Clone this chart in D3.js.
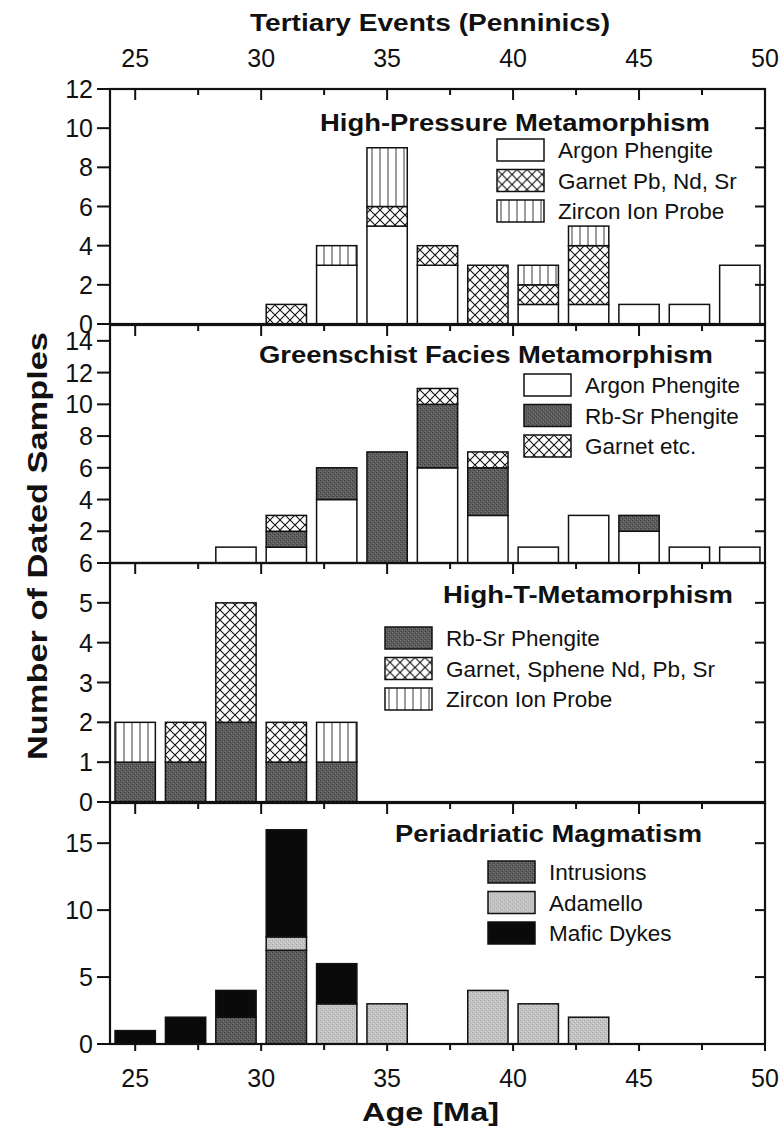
<!DOCTYPE html>
<html>
<head>
<meta charset="utf-8">
<script src="https://cdn.jsdelivr.net/npm/d3@7"></script>
<style>
  body { margin: 0; background: #fff; }
  svg { display: block; }
  text { font-family: "Liberation Sans", Arial, sans-serif; fill: #111; }
</style>
</head>
<body>
<svg id="chart" width="783" height="1135"></svg>
<script>
// age bins (Ma), each bar is 1.6 Ma wide centred on the bin
const bins = [25, 27, 29, 31, 33, 35, 37, 39, 41, 43, 45, 47, 49];

// High-Pressure Metamorphism
const hpArgon  = [0, 0, 0, 0, 3, 5, 3, 0, 1, 1, 1, 1, 3];
const hpGarnet = [0, 0, 0, 1, 0, 1, 1, 3, 1, 3, 0, 0, 0];
const hpZircon = [0, 0, 0, 0, 1, 3, 0, 0, 1, 1, 0, 0, 0];

// Greenschist Facies Metamorphism
const gsArgon  = [0, 0, 1, 1, 4, 0, 6, 3, 1, 3, 2, 1, 1];
const gsRbSr   = [0, 0, 0, 1, 2, 7, 4, 3, 0, 0, 1, 0, 0];
const gsGarnet = [0, 0, 0, 1, 0, 0, 1, 1, 0, 0, 0, 0, 0];

// High-T-Metamorphism
const htRbSr   = [1, 1, 2, 1, 1, 0, 0, 0, 0, 0, 0, 0, 0];
const htGarnet = [0, 1, 3, 1, 0, 0, 0, 0, 0, 0, 0, 0, 0];
const htZircon = [1, 0, 0, 0, 1, 0, 0, 0, 0, 0, 0, 0, 0];

// Periadriatic Magmatism
const pmIntrusions = [0, 0, 2, 7, 0, 0, 0, 0, 0, 0, 0, 0, 0];
const pmAdamello   = [0, 0, 0, 1, 3, 3, 0, 4, 3, 2, 0, 0, 0];
const pmMafic      = [1, 2, 2, 8, 3, 0, 0, 0, 0, 0, 0, 0, 0];

const xMajor = [25, 30, 35, 40, 45, 50];
const xMinor = [27.5, 32.5, 37.5, 42.5, 47.5];

const svg = d3.select("#chart");
const left = 110, right = 765;
const x = d3.scaleLinear().domain([24, 50]).range([left, right]);

// fills
const defs = svg.append("defs");
const hatch = defs.append("pattern").attr("id", "cross")
  .attr("patternUnits", "userSpaceOnUse").attr("width", 10).attr("height", 10);
hatch.append("rect").attr("width", 10).attr("height", 10).attr("fill", "#fff");
hatch.append("path").attr("d", "M0,0L10,10M10,0L0,10M-5,5L5,15M5,-5L15,5M-5,5L5,-5M5,15L15,5")
  .attr("stroke", "#111").attr("stroke-width", 1.1);
const vlines = defs.append("pattern").attr("id", "vert")
  .attr("patternUnits", "userSpaceOnUse").attr("width", 8).attr("height", 8);
vlines.append("rect").attr("width", 8).attr("height", 8).attr("fill", "#fff");
vlines.append("path").attr("d", "M4,0V8").attr("stroke", "#222").attr("stroke-width", 0.9);

// stippled greys
function stipple(id, base, darker, lighter) {
  const p = defs.append("pattern").attr("id", id)
    .attr("patternUnits", "userSpaceOnUse").attr("width", 4).attr("height", 4);
  p.append("rect").attr("width", 4).attr("height", 4).attr("fill", base);
  p.append("rect").attr("x", 0).attr("y", 0).attr("width", 1).attr("height", 1).attr("fill", darker);
  p.append("rect").attr("x", 2).attr("y", 2).attr("width", 1).attr("height", 1).attr("fill", darker);
  p.append("rect").attr("x", 1).attr("y", 3).attr("width", 1).attr("height", 1).attr("fill", lighter);
  p.append("rect").attr("x", 3).attr("y", 1).attr("width", 1).attr("height", 1).attr("fill", lighter);
}
stipple("darkdots", "#5c5c5c", "#3c3c3c", "#7a7a7a");
stipple("lightdots", "#c2c2c2", "#a6a6a6", "#d8d8d8");

const fills = {
  white: "#fff",
  cross: "url(#cross)",
  vert: "url(#vert)",
  dark: "url(#darkdots)",
  light: "url(#lightdots)",
  black: "#0a0a0a"
};

const panels = [
  {
    title: "High-Pressure Metamorphism", titleX: 710, titleY: 131, titleW: 390,
    domain: [0, 12], range: [324, 89], ticks: [0, 2, 4, 6, 8, 10, 12], labels: [0, 2, 4, 6, 8, 10, 12],
    series: [
      { name: "Argon Phengite", values: hpArgon, fill: "white" },
      { name: "Garnet Pb, Nd, Sr", values: hpGarnet, fill: "cross" },
      { name: "Zircon Ion Probe", values: hpZircon, fill: "vert" }
    ],
    legendX: 497, legendY: 139
  },
  {
    title: "Greenschist Facies Metamorphism", titleX: 713, titleY: 363, titleW: 454,
    domain: [0, 15], range: [563, 325], ticks: [0, 2, 4, 6, 8, 10, 12, 14], labels: [2, 4, 6, 8, 10, 12, 14],
    series: [
      { name: "Argon Phengite", values: gsArgon, fill: "white" },
      { name: "Rb-Sr Phengite", values: gsRbSr, fill: "dark" },
      { name: "Garnet etc.", values: gsGarnet, fill: "cross" }
    ],
    legendX: 524, legendY: 374
  },
  {
    title: "High-T-Metamorphism", titleX: 733, titleY: 603, titleW: 290,
    domain: [0, 6], range: [802, 563], ticks: [0, 1, 2, 3, 4, 5, 6], labels: [0, 1, 2, 3, 4, 5, 6],
    series: [
      { name: "Rb-Sr Phengite", values: htRbSr, fill: "dark" },
      { name: "Garnet, Sphene Nd, Pb, Sr", values: htGarnet, fill: "cross" },
      { name: "Zircon Ion Probe", values: htZircon, fill: "vert" }
    ],
    legendX: 385, legendY: 627
  },
  {
    title: "Periadriatic Magmatism", titleX: 702, titleY: 842, titleW: 307,
    domain: [0, 18], range: [1044, 803], ticks: [0, 5, 10, 15], labels: [0, 5, 10, 15],
    series: [
      { name: "Intrusions", values: pmIntrusions, fill: "dark" },
      { name: "Adamello", values: pmAdamello, fill: "light" },
      { name: "Mafic Dykes", values: pmMafic, fill: "black" }
    ],
    legendX: 488, legendY: 861
  }
];

panels.forEach((p, pi) => {
  const y = d3.scaleLinear().domain(p.domain).range(p.range);
  const g = svg.append("g");
  const top = p.range[1], bottom = p.range[0];

  // stacked bars
  const rows = bins.map((b, i) => {
    const r = { bin: b };
    p.series.forEach((s, si) => r["s" + si] = s.values[i]);
    return r;
  });
  const stack = d3.stack().keys(p.series.map((s, si) => "s" + si))(rows);
  stack.forEach((layer, si) => {
    g.append("g").selectAll("rect").data(layer.filter(d => d[1] > d[0])).join("rect")
      .attr("x", d => x(d.data.bin - 0.8))
      .attr("width", d => x(d.data.bin + 0.8) - x(d.data.bin - 0.8))
      .attr("y", d => y(d[1]))
      .attr("height", d => y(d[0]) - y(d[1]))
      .attr("fill", fills[p.series[si].fill])
      .attr("stroke", "#111")
      .attr("stroke-width", 1.5);
  });

  // frame
  g.append("rect").attr("x", left).attr("y", top)
    .attr("width", right - left).attr("height", bottom - top)
    .attr("fill", "none").attr("stroke", "#111").attr("stroke-width", 2.2);

  // top ticks (inward)
  g.append("g").selectAll("line").data(xMajor).join("line")
    .attr("x1", d => x(d)).attr("x2", d => x(d))
    .attr("y1", top).attr("y2", top + 11)
    .attr("stroke", "#111").attr("stroke-width", 2);
  g.append("g").selectAll("line").data(xMinor).join("line")
    .attr("x1", d => x(d)).attr("x2", d => x(d))
    .attr("y1", top).attr("y2", top + 6)
    .attr("stroke", "#111").attr("stroke-width", 2);

  // left ticks (outward) and right ticks (inward)
  g.append("g").selectAll("line").data(p.ticks).join("line")
    .attr("x1", left - 13).attr("x2", left)
    .attr("y1", d => y(d)).attr("y2", d => y(d))
    .attr("stroke", "#111").attr("stroke-width", 2);
  g.append("g").selectAll("line").data(p.ticks.filter(t => t > p.domain[0] && t < p.domain[1])).join("line")
    .attr("x1", right - 10).attr("x2", right)
    .attr("y1", d => y(d)).attr("y2", d => y(d))
    .attr("stroke", "#111").attr("stroke-width", 2);

  g.append("g").selectAll("text").data(p.labels).join("text")
    .attr("x", left - 17).attr("y", d => y(d) + 9)
    .attr("text-anchor", "end")
    .style("font-size", "25px")
    .text(d => d);

  // title
  g.append("text").attr("x", p.titleX - p.titleW).attr("y", p.titleY)
    .attr("textLength", p.titleW).attr("lengthAdjust", "spacingAndGlyphs")
    .style("font-size", "23px").style("font-weight", "bold")
    .text(p.title);

  // legend
  const lg = g.append("g").selectAll("g").data(p.series).join("g")
    .attr("transform", (d, i) => `translate(${p.legendX},${p.legendY + i * 30.5})`);
  lg.append("rect").attr("width", 47).attr("height", 22)
    .attr("fill", d => fills[d.fill]).attr("stroke", "#111").attr("stroke-width", 1.5);
  lg.append("text").attr("x", 61).attr("y", 19)
    .style("font-size", "22.5px")
    .text(d => d.name);

  // bottom axis of the last panel
  if (pi === panels.length - 1) {
    g.append("g").selectAll("line").data(xMajor).join("line")
      .attr("x1", d => x(d)).attr("x2", d => x(d))
      .attr("y1", bottom).attr("y2", bottom + 7)
      .attr("stroke", "#111").attr("stroke-width", 2);
    g.append("g").selectAll("line").data(xMinor).join("line")
      .attr("x1", d => x(d)).attr("x2", d => x(d))
      .attr("y1", bottom).attr("y2", bottom + 6)
      .attr("stroke", "#111").attr("stroke-width", 2);
    g.append("g").selectAll("text").data(xMajor).join("text")
      .attr("x", d => x(d)).attr("y", bottom + 43)
      .attr("text-anchor", "middle")
      .style("font-size", "25px")
      .text(d => d);
  }
});

// top axis labels
svg.append("g").selectAll("text").data(xMajor).join("text")
  .attr("x", d => x(d)).attr("y", 67)
  .attr("text-anchor", "middle")
  .style("font-size", "25px")
  .text(d => d);

svg.append("text").attr("x", 250).attr("y", 31)
  .attr("textLength", 360).attr("lengthAdjust", "spacingAndGlyphs")
  .style("font-size", "24px").style("font-weight", "bold")
  .text("Tertiary Events (Penninics)");

svg.append("text").attr("x", 362).attr("y", 1121)
  .attr("textLength", 137).attr("lengthAdjust", "spacingAndGlyphs")
  .style("font-size", "25px").style("font-weight", "bold")
  .text("Age [Ma]");

svg.append("text")
  .attr("transform", "translate(47,760) rotate(-90)")
  .attr("textLength", 428).attr("lengthAdjust", "spacingAndGlyphs")
  .style("font-size", "27px").style("font-weight", "bold")
  .text("Number of Dated Samples");
</script>
</body>
</html>
